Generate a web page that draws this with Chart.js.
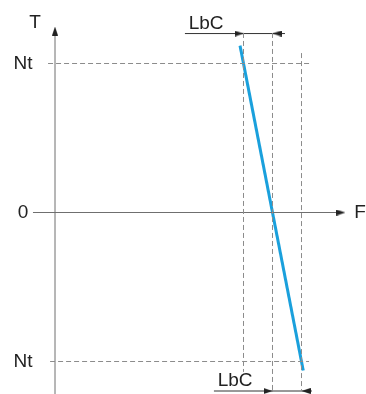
<!DOCTYPE html>
<html>
<head>
<meta charset="utf-8">
<script src="https://cdn.jsdelivr.net/npm/chart.js@4"></script>
<style>
  body { margin: 0; background: #fff; }
  #wrap { width: 366px; height: 394px; }
</style>
</head>
<body>
<div id="wrap"><canvas id="myChart"></canvas></div>
<script>
// torque T (in Nt units) versus frequency F
const tickValues = [1, 0, -1];
const tickLabels = ["Nt", "0", "Nt"];
const bandF = [6.5, 7.5, 8.5]; // F - LbC, F, F + LbC
const lineF = [6.38, 8.56];
const lineT = [1.12, -1.06];

// little arrow head used as point style
function makeArrow() {
  const c = document.createElement("canvas");
  c.width = 9;
  c.height = 6;
  const g = c.getContext("2d");
  g.fillStyle = "#222";
  g.beginPath();
  g.moveTo(0, 0);
  g.lineTo(9, 3);
  g.lineTo(0, 6);
  g.closePath();
  g.fill();
  return c;
}
const arrow = makeArrow();

const axisColor = "#6f6f6f";
const dashColor = "#8c8c8c";

function seg(xs, ys) {
  return xs.map((x, i) => ({ x: x, y: ys[i] }));
}

const dashed = (data) => ({
  data: data,
  showLine: true,
  borderColor: dashColor,
  borderWidth: 1,
  borderDash: [5, 3],
  pointRadius: 0,
  clip: false,
});

const labels = [
  { text: "T", f: -0.69, t: 1.272 },
  { text: "F", f: 10.52, t: 0 },
  { text: "LbC", f: 5.21, t: 1.265 },
  { text: "LbC", f: 6.21, t: -1.13 },
];

const textPlugin = {
  id: "texts",
  afterDatasetsDraw(chart) {
    const ctx = chart.ctx;
    const xs = chart.scales.x;
    const ys = chart.scales.y;
    ctx.save();
    ctx.fillStyle = "#222";
    ctx.font = "19px Arial, 'Liberation Sans', sans-serif";
    ctx.textAlign = "center";
    ctx.textBaseline = "middle";
    tickValues.forEach((v, i) => {
      ctx.fillText(tickLabels[i], xs.getPixelForValue(-1.1), ys.getPixelForValue(v));
    });
    labels.forEach((l) => {
      ctx.fillText(l.text, xs.getPixelForValue(l.f), ys.getPixelForValue(l.t));
    });
    ctx.restore();
  },
};

const ctx = document.getElementById("myChart").getContext("2d");
const myChart = new Chart(ctx, {
  type: "scatter",
  data: {
    datasets: [
      // Nt levels
      dashed(seg([-0.24, 8.86], [tickValues[0], tickValues[0]])),
      dashed(seg([-0.17, 8.76], [tickValues[2], tickValues[2]])),
      // LbC band
      dashed(seg([bandF[0], bandF[0]], [1.205, -1.07])),
      dashed(seg([bandF[1], bandF[1]], [1.205, -1.198])),
      dashed(seg([bandF[2], bandF[2]], [1.07, -1.198])),
      // T axis
      {
        data: seg([0, 0], [-1.22, 1.218]),
        showLine: true,
        borderColor: axisColor,
        borderWidth: 1,
        pointRadius: [0, 4],
        pointStyle: arrow,
        pointRotation: -90,
        clip: false,
      },
      // F axis
      {
        data: seg([-0.76, 9.86], [0, 0]),
        showLine: true,
        borderColor: axisColor,
        borderWidth: 1,
        pointRadius: [0, 4],
        pointStyle: arrow,
        pointRotation: 0,
        clip: false,
      },
      // LbC dimension, top
      {
        data: seg([4.48, bandF[0] - 0.155, bandF[1] + 0.155, 7.93], [1.201, 1.201, 1.201, 1.201]),
        showLine: true,
        borderColor: "#333",
        borderWidth: 1,
        pointRadius: [0, 4, 4, 0],
        pointStyle: arrow,
        pointRotation: [0, 0, 180, 0],
        clip: false,
      },
      // LbC dimension, bottom
      {
        data: seg([5.48, bandF[1] - 0.155, bandF[2] + 0.155, 8.86], [-1.198, -1.198, -1.198, -1.198]),
        showLine: true,
        borderColor: "#333",
        borderWidth: 1,
        pointRadius: [0, 4, 4, 0],
        pointStyle: arrow,
        pointRotation: [0, 0, 180, 0],
        clip: false,
      },
      // torque line
      {
        data: seg(lineF, lineT),
        showLine: true,
        borderColor: "#1aa0dc",
        borderWidth: 3,
        pointRadius: 0,
        clip: false,
      },
    ],
  },
  options: {
    responsive: true,
    maintainAspectRatio: false,
    animation: false,
    events: [],
    layout: { autoPadding: false, padding: 0 },
    plugins: {
      legend: { display: false },
      tooltip: { enabled: false },
    },
    scales: {
      x: { type: "linear", display: false, min: -1.897, max: 10.724 },
      y: { type: "linear", display: false, min: -1.2181, max: 1.4262 },
    },
  },
  plugins: [textPlugin],
});
</script>
</body>
</html>
